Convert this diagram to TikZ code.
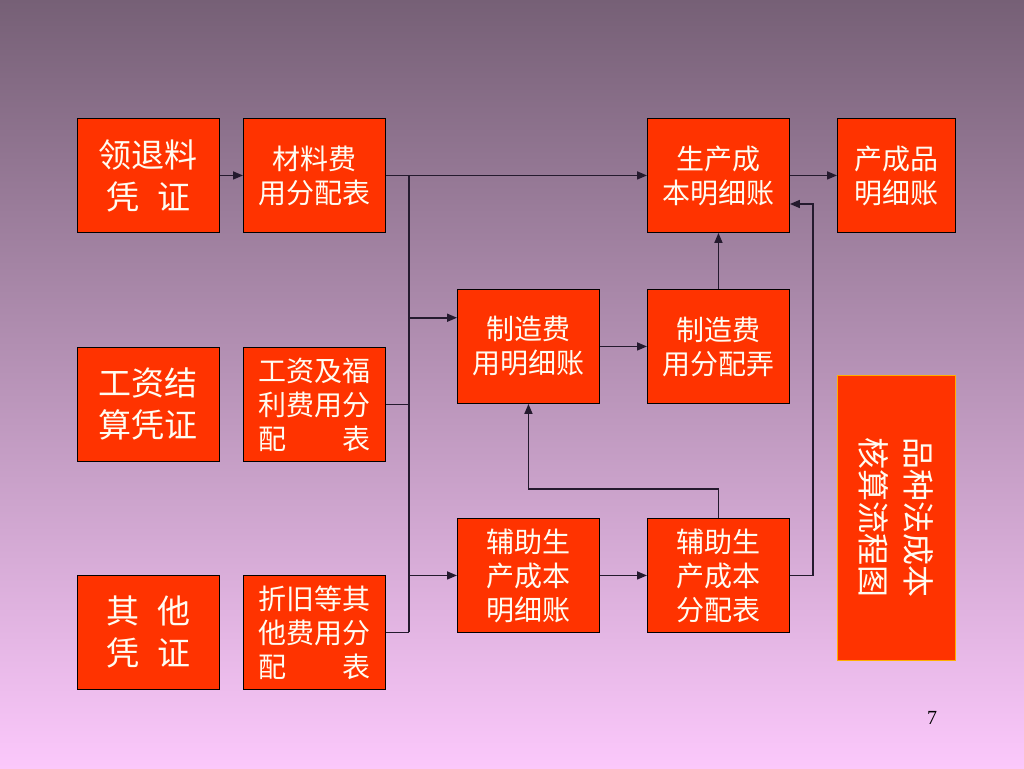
\documentclass[tikz,border=0pt]{standalone}
\usepackage{fontspec}
\newfontfamily\cjk{Noto Sans CJK SC}
\newfontfamily\numfont{Liberation Serif}
\usetikzlibrary{arrows.meta,calc}
\definecolor{boxred}{HTML}{FF3300}
\definecolor{lncol}{HTML}{241A2E}
\definecolor{bgtop}{HTML}{766076}
\definecolor{bgmid}{HTML}{C49DC7}
\definecolor{bgbot}{HTML}{FBC8FB}
\definecolor{txtcol}{HTML}{FFFCF2}
\definecolor{titleborder}{HTML}{FFB000}
\tikzset{
  card/.style={draw=black, line width=0.9pt, fill=boxred, text=txtcol,
    minimum width=142pt, minimum height=114pt, inner sep=0pt,
    anchor=north west, align=center},
  bigtext/.style={font=\cjk\fontsize{33}{42}\selectfont},
  smalltext/.style={font=\cjk\fontsize{28}{34}\selectfont},
  ln/.style={draw=lncol, line width=1.6pt},
  arr/.style={ln, -{Triangle[length=10pt,width=8pt]}},
}
\begin{document}
\begin{tikzpicture}[x=1pt,y=-1pt]
\shade[top color=bgtop, middle color=bgmid, bottom color=bgbot] (0,0) rectangle (1024,768);
\useasboundingbox (0,0) rectangle (1024,768);

% column 1
\node[card,bigtext] (lt) at (77,118) {领退料\\凭\hspace{0.55em}证};
\node[card,bigtext] (gj) at (77,347) {工资结\\算凭证};
\node[card,bigtext] (qt) at (77,575) {其\hspace{0.55em}他\\凭\hspace{0.55em}证};

% column 2
\node[card,smalltext] (cl) at (243,118) {材料费\\用分配表};
\node[card,smalltext] (gz) at (243,347) {工资及福\\利费用分\\\hbox to 4em{配\hfill 表}};
\node[card,smalltext] (zj) at (243,575) {折旧等其\\他费用分\\\hbox to 4em{配\hfill 表}};

% column 3
\node[card,smalltext] (zm) at (457,289) {制造费\\用明细账};
\node[card,smalltext] (fm) at (457,518) {辅助生\\产成本\\明细账};

% column 4
\node[card,smalltext] (sc) at (647,118) {生产成\\本明细账};
\node[card,smalltext] (zf) at (647,289) {制造费\\用分配弄};
\node[card,smalltext] (ff) at (647,518) {辅助生\\产成本\\分配表};

% column 5
\node[card,smalltext,minimum width=118pt] (cp) at (837,118) {产成品\\明细账};
\node[draw=titleborder, line width=1pt, fill=boxred, text=txtcol,
      minimum width=285pt, minimum height=118pt, inner sep=0pt,
      rotate=-90, align=center, font=\cjk\fontsize{32}{45}\selectfont]
      (tt) at (896,517.5) {品种法成本\\核算流程图};

\node[font=\numfont\fontsize{20}{24}\selectfont, text=black] (pg) at (932,718) {7};

% connectors
\coordinate (bus) at (409,0);
\coordinate (kink) at (0,489);
\coordinate (rbus) at (813,204);

\draw[arr] (lt.east) -- (cl.west);
\draw[arr] (cl.east) -- (sc.west);
\draw[ln] (bus |- cl.east) -- (bus |- zj.east);
\draw[ln] (gz.east) -- (bus |- gz.east);
\draw[ln] (zj.east) -- (bus |- zj.east);
\coordinate (zmin) at ($(zm.north west)!0.25!(zm.south west)$);
\draw[arr] (bus |- zmin) -- (zmin);
\draw[arr] (bus |- fm.west) -- (fm.west);
\draw[arr] (zm.east) -- (zf.west);
\draw[arr] (zf.north) -- (sc.south);
\draw[arr] (sc.east) -- (cp.west);
\draw[arr] (fm.east) -- (ff.west);
\draw[arr] (ff.north) -- (ff.north |- kink) -| (zm.south);
\draw[arr] (ff.east) -| (rbus) -- (sc.east |- rbus);
\end{tikzpicture}
\end{document}
